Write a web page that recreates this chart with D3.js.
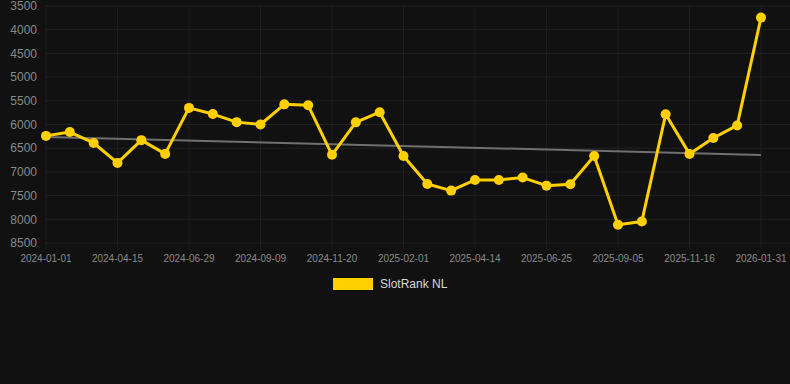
<!DOCTYPE html>
<html>
<head>
<meta charset="utf-8">
<script src="https://cdn.jsdelivr.net/npm/d3@7"></script>
<style>
  html, body { margin: 0; padding: 0; background: #111111; }
  svg { display: block; font-family: "Liberation Sans", Arial, sans-serif; }
</style>
</head>
<body>
<svg id="chart" width="790" height="384"></svg>
<script>
// dates for each point (every third one is shown on the axis)
const dates = [
  '2024-01-01', '2024-02-05', '2024-03-11', '2024-04-15', '2024-05-10', '2024-06-04',
  '2024-06-29', '2024-07-23', '2024-08-16', '2024-09-09', '2024-10-03', '2024-10-27',
  '2024-11-20', '2024-12-14', '2025-01-07', '2025-02-01', '2025-02-25', '2025-03-21',
  '2025-04-14', '2025-05-08', '2025-06-01', '2025-06-25', '2025-07-19', '2025-08-12',
  '2025-09-05', '2025-09-29', '2025-10-23', '2025-11-16', '2025-12-10', '2026-01-03',
  '2026-01-31'
];

// SlotRank NL rank values (lower is better, axis reversed)
const rankValues = [
  6240, 6160, 6390, 6810, 6330, 6620,
  5650, 5780, 5950, 6000, 5575, 5595,
  6640, 5955, 5740, 6665, 7255, 7395,
  7170, 7170, 7120, 7290, 7260, 6665,
  8115, 8045, 5785, 6620, 6285, 6020,
  3745
];

const yTicks = [3500, 4000, 4500, 5000, 5500, 6000, 6500, 7000, 7500, 8000, 8500];
const seriesName = 'SlotRank NL';

const svg = d3.select('#chart');
const plotLeft = 46, plotRight = 761, plotTop = 6, plotBottom = 243;

const x = d3.scalePoint().domain(dates).range([plotLeft, plotRight]);
const y = d3.scaleLinear().domain([3500, 8500]).range([plotTop, plotBottom]);

// grid
const grid = svg.append('g');
grid.selectAll('line.h')
  .data(yTicks)
  .join('line')
  .attr('x1', plotLeft - 1).attr('x2', 790)
  .attr('y1', (d) => y(d)).attr('y2', (d) => y(d))
  .attr('stroke', '#222222').attr('stroke-width', 1);

const shownDates = dates.filter((d, i) => i % 3 === 0);
grid.selectAll('line.v')
  .data(shownDates)
  .join('line')
  .attr('x1', (d) => x(d)).attr('x2', (d) => x(d))
  .attr('y1', plotTop).attr('y2', plotBottom + 6)
  .attr('stroke', '#1e1e1e').attr('stroke-width', 1);

// y axis labels
svg.append('g')
  .selectAll('text')
  .data(yTicks)
  .join('text')
  .attr('x', 37)
  .attr('y', (d) => y(d))
  .attr('dy', '0.35em')
  .attr('text-anchor', 'end')
  .attr('fill', '#8a8a8a')
  .attr('font-size', 12)
  .text((d) => d);

// x axis labels
svg.append('g')
  .selectAll('text')
  .data(shownDates)
  .join('text')
  .attr('x', (d) => x(d))
  .attr('y', 262)
  .attr('text-anchor', 'middle')
  .attr('fill', '#8a8a8a')
  .attr('font-size', 10)
  .text((d) => d);

// linear trend (least squares over point index)
const n = rankValues.length;
const meanI = (n - 1) / 2;
const meanV = d3.mean(rankValues);
let sxy = 0, sxx = 0;
rankValues.forEach((v, i) => {
  sxy += (i - meanI) * (v - meanV);
  sxx += (i - meanI) * (i - meanI);
});
const slope = sxy / sxx;
const trend = [0, n - 1].map((i) => ({ d: dates[i], v: meanV + slope * (i - meanI) }));

svg.append('line')
  .attr('x1', x(trend[0].d)).attr('y1', y(trend[0].v))
  .attr('x2', x(trend[1].d)).attr('y2', y(trend[1].v))
  .attr('stroke', '#707070').attr('stroke-width', 2);

// series line
const line = d3.line()
  .x((d, i) => x(dates[i]))
  .y((d) => y(d));

svg.append('path')
  .datum(rankValues)
  .attr('d', line)
  .attr('fill', 'none')
  .attr('stroke', '#FFD000')
  .attr('stroke-width', 3)
  .attr('stroke-linejoin', 'round');

svg.append('g')
  .selectAll('circle')
  .data(rankValues)
  .join('circle')
  .attr('cx', (d, i) => x(dates[i]))
  .attr('cy', (d) => y(d))
  .attr('r', 5)
  .attr('fill', '#FFD000');

// legend
const legend = svg.append('g');
legend.append('rect')
  .attr('x', 333).attr('y', 278)
  .attr('width', 40).attr('height', 12)
  .attr('fill', '#FFD000');
legend.append('text')
  .attr('x', 380).attr('y', 284)
  .attr('dy', '0.35em')
  .attr('fill', '#d8d8d8')
  .attr('font-size', 12)
  .text(seriesName);
</script>
</body>
</html>
